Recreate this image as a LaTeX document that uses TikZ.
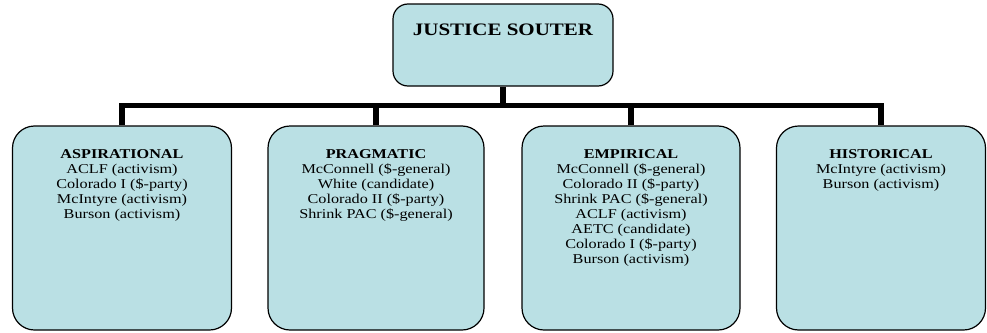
\documentclass[tikz,border=0pt]{standalone}
\usepackage{fontspec}
\setmainfont[FakeStretch=1.2]{Liberation Serif}
\definecolor{boxfill}{RGB}{186,224,228}
\tikzset{
  catbox/.style={draw=black, line width=1.2pt, fill=boxfill, rounded corners=22pt, inner sep=0pt},
  headbox/.style={draw=black, line width=1.2pt, fill=boxfill, rounded corners=15pt, inner sep=0pt},
  cattext/.style={font=\fontsize{13.5}{15}\selectfont, align=center, inner sep=0pt, anchor=north},
  conn/.style={draw=black, line width=5.5pt, line join=miter, line cap=butt}
}
\begin{document}
\begin{tikzpicture}[x=1pt,y=-1pt]
\useasboundingbox (0,0) rectangle (987,332);

% head box
\node[headbox, minimum width=220pt, minimum height=82pt] (head) at (503,45) {};
\node[font=\fontsize{17.5}{20}\selectfont\bfseries, anchor=base, inner sep=0pt] (title) at (503,35) {JUSTICE SOUTER};

% category boxes
\node[catbox, minimum width=219pt, minimum height=204pt] (b1) at (122,228) {};
\node[catbox, minimum width=216pt, minimum height=204pt] (b2) at (376,228) {};
\node[catbox, minimum width=218pt, minimum height=204pt] (b3) at (631,228) {};
\node[catbox, minimum width=209pt, minimum height=204pt] (b4) at (881,228) {};

% connectors
\coordinate (bar) at (0,105.5);
\draw[conn] (b1.north) -- (b1.north |- bar) -- (b4.north |- bar) -- (b4.north);
\draw[conn] (b2.north) -- (b2.north |- bar);
\draw[conn] (b3.north) -- (b3.north |- bar);
\draw[conn] (head.south) -- (head.south |- bar);

% box contents
\node[cattext] (t1) at (122,149) {\textbf{ASPIRATIONAL}\\ACLF (activism)\\Colorado I (\$-party)\\McIntyre (activism)\\Burson (activism)};
\node[cattext] (t2) at (376,149) {\textbf{PRAGMATIC}\\McConnell (\$-general)\\White (candidate)\\Colorado II (\$-party)\\Shrink PAC (\$-general)};
\node[cattext] (t3) at (631,149) {\textbf{EMPIRICAL}\\McConnell (\$-general)\\Colorado II (\$-party)\\Shrink PAC (\$-general)\\ACLF (activism)\\AETC (candidate)\\Colorado I (\$-party)\\Burson (activism)};
\node[cattext] (t4) at (881,149) {\textbf{HISTORICAL}\\McIntyre (activism)\\Burson (activism)};
\end{tikzpicture}
\end{document}
